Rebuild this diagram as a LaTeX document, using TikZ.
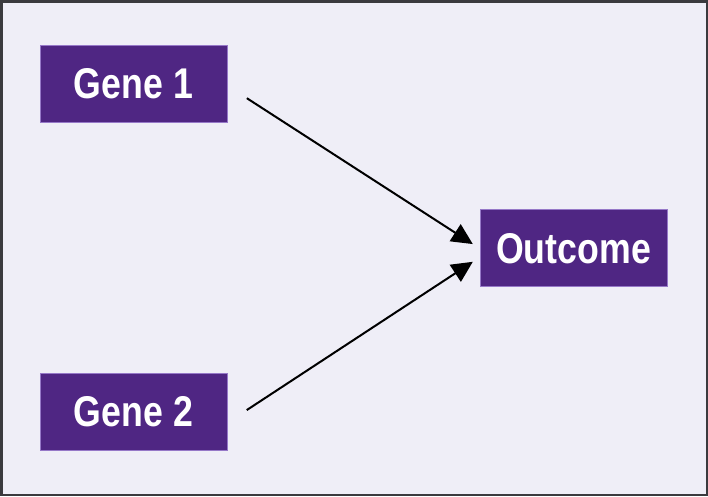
\documentclass[tikz,border=0pt]{standalone}
\usepackage{fontspec}
\newfontfamily\boxfont[FakeStretch=0.83]{Liberation Sans}
\usetikzlibrary{arrows.meta,positioning}
\definecolor{bgpanel}{RGB}{239,238,247}
\definecolor{framegray}{RGB}{58,58,62}
\definecolor{genepurple}{RGB}{79,38,131}
\definecolor{geneedge}{RGB}{150,120,200}

\begin{document}
\begin{tikzpicture}[
      x=1pt,y=-1pt,
      genebox/.style={
         rectangle,
         draw=geneedge,
         line width=1pt,
         fill=genepurple,
         text=white,
         inner sep=0pt,
         minimum width=187pt,
         minimum height=77pt,
         font=\boxfont\bfseries\fontsize{43}{43}\selectfont},
      myarrow/.style={-{Triangle[length=21pt,width=20pt]},
         line width=2pt,
         shorten <=23pt,
         shorten >=8pt},
      node distance=250pt and 253pt
      ]
      \useasboundingbox (0,0) rectangle (708,496);
      \draw[framegray,fill=bgpanel,line width=2.5pt] (1.25,1.25) rectangle (706.75,494.75);

      \node[genebox] (g1) at (133.5,83.7) {Gene 1};
      \node[genebox,below=of g1] (g2) {Gene 2};
      \node[genebox] (out) at (573.5,248.4) {Outcome};

    \foreach \i/\j/\s/\t in {% start node/end node/shift at start/shift at end
      g1/out/-2/0,
      g2/out/-11/-9}
       \draw [myarrow] ([yshift=\s pt]\i.east) -- ([yshift=\t pt]\j.west);
\end{tikzpicture}
\end{document}
